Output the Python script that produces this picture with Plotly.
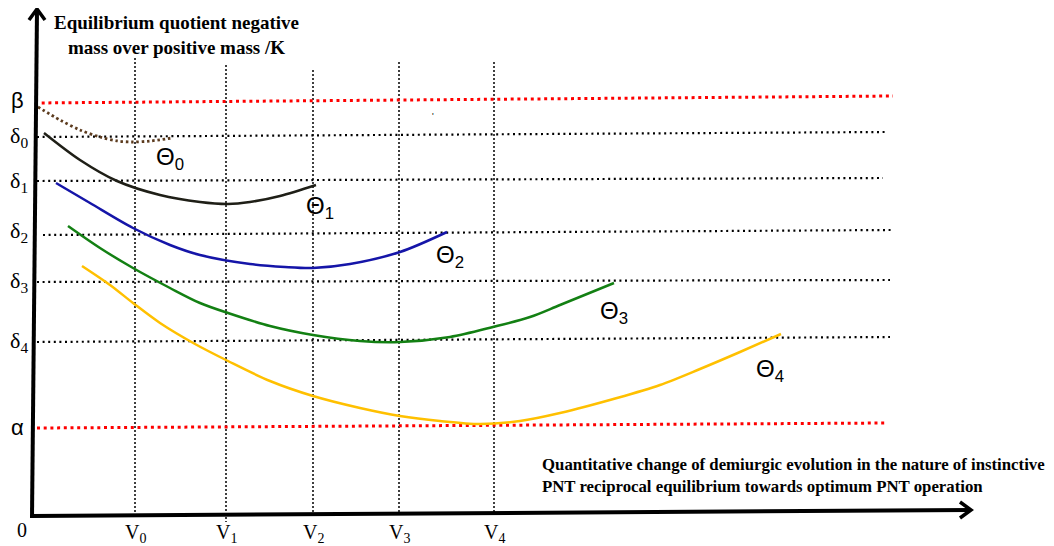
import plotly.graph_objects as go

# ---------------- data (diagram units: px-like, y grows downward) ----------------
curve_names = ["Θ0", "Θ1", "Θ2", "Θ3", "Θ4"]
theta0_x = [38, 60, 80, 100, 118, 133, 150, 172]
theta0_y = [107, 120, 130, 137, 141, 142, 141, 138]
theta1_x = [44, 80, 117, 160, 200, 228, 250, 280, 316]
theta1_y = [133, 160, 181, 195, 202, 204, 202, 196, 185]
theta2_x = [56, 90, 133, 170, 200, 250, 285, 313, 350, 400, 447]
theta2_y = [183, 203, 228, 245, 255, 264, 267, 268, 264, 252, 232]
theta3_x = [68, 100, 133, 170, 200, 228, 270, 313, 360, 400, 450, 493, 530, 560, 614]
theta3_y = [226, 248, 268, 288, 303, 313, 326, 335, 341, 342, 337, 327, 317, 305, 283]
theta4_x = [82, 110, 133, 160, 195, 228, 270, 313, 360, 400, 440, 480, 520, 560, 617, 660, 700, 740, 781]
theta4_y = [266, 285, 303, 323, 344, 361, 381, 396, 408, 416, 421, 424, 421, 413, 398, 385, 369, 352, 334]

# equilibrium levels (left / right ends of dotted reference lines)
level_labels = ["δ<sub>0</sub>", "δ<sub>1</sub>", "δ<sub>2</sub>", "δ<sub>3</sub>", "δ<sub>4</sub>"]
level_x0 = [37, 37, 43, 37, 37]
level_x1 = [886, 883, 892, 890, 890]
level_y0 = [137, 181, 235, 282, 342]
level_y1 = [132, 178, 230, 280, 337]
level_label_y = [137, 182, 232, 282, 342]

bound_labels = ["β", "α"]
bound_x0 = [35, 37]
bound_x1 = [893, 887]
bound_y0 = [103, 428]
bound_y1 = [96, 423]
bound_label_y = [100, 427]

v_labels = ["V<sub>0</sub>", "V<sub>1</sub>", "V<sub>2</sub>", "V<sub>3</sub>", "V<sub>4</sub>"]
v_x = [135, 226, 313, 399, 494]
v_top = [58, 65, 70, 62, 62]
v_bottom = [516, 522, 516, 515, 514]

theta_label_x = [170, 320, 450, 614, 770]
theta_label_y = [158, 207, 256, 312, 370]

y_title = "Equilibrium quotient negative<br>mass over positive mass /K"
x_title = ("Quantitative change of demiurgic evolution in the nature of instinctive<br>"
           "PNT reciprocal equilibrium towards optimum PNT operation")

# page body has an 8px margin: shift the visible window so that diagram units line up
OFF = 8

# ---------------- figure ----------------
fig = go.Figure()

# vertical dotted guides
for x, t, b in zip(v_x, v_top, v_bottom):
    fig.add_trace(go.Scatter(x=[x, x], y=[t, b], mode="lines",
                             line=dict(color="black", width=1.5, dash="2px,2px"),
                             hoverinfo="skip", showlegend=False))

# delta levels
for x0, x1, y0, y1 in zip(level_x0, level_x1, level_y0, level_y1):
    fig.add_trace(go.Scatter(x=[x0, x1], y=[y0, y1], mode="lines",
                             line=dict(color="black", width=2.2, dash="2px,3.6px"),
                             hoverinfo="skip", showlegend=False))

# alpha / beta bounds (red)
for x0, x1, y0, y1 in zip(bound_x0, bound_x1, bound_y0, bound_y1):
    fig.add_trace(go.Scatter(x=[x0, x1], y=[y0, y1], mode="lines",
                             line=dict(color="#ff0000", width=3, dash="3px,3.7px"),
                             hoverinfo="skip", showlegend=False))

# curves
curves = [
    (theta0_x, theta0_y, "#5c3b1e", "2.5px,2.8px", 2.8),
    (theta1_x, theta1_y, "#1f1f17", "solid", 2.5),
    (theta2_x, theta2_y, "#1515a8", "solid", 2.5),
    (theta3_x, theta3_y, "#138013", "solid", 2.5),
    (theta4_x, theta4_y, "#ffc000", "solid", 2.5),
]
for (cx, cy, col, dash, w), name in zip(curves, curve_names):
    fig.add_trace(go.Scatter(x=cx, y=cy, mode="lines", name=name,
                             line=dict(color=col, width=w, dash=dash, shape="spline", smoothing=0.9),
                             hoverinfo="skip", showlegend=False))

# axes (thick black lines with open arrowheads)
shapes = [
    dict(type="line", x0=32, y0=518, x1=37, y1=10, xref="x", yref="y",
         line=dict(color="black", width=4)),
    dict(type="line", x0=32, y0=516, x1=970, y1=510, xref="x", yref="y",
         line=dict(color="black", width=4)),
    dict(type="path", path="M 29,20 L 37,9 L 45,20", xref="x", yref="y",
         line=dict(color="black", width=3.5)),
    dict(type="path", path="M 960,502 L 971,510 L 960,518", xref="x", yref="y",
         line=dict(color="black", width=3.5)),
]

ann = []
serif = "Liberation Serif"
ann.append(dict(x=176, y=10, text="<b>" + y_title + "</b>", showarrow=False,
                xanchor="center", yanchor="top", align="center",
                font=dict(family=serif, size=19, color="black")))
ann.append(dict(x=540, y=453, text="<b>" + x_title + "</b>", showarrow=False,
                xanchor="left", yanchor="top", align="left",
                font=dict(family=serif, size=16.8, color="black")))
for lab, ly in zip(level_labels, level_label_y):
    ann.append(dict(x=19, y=ly, text=lab, showarrow=False, xanchor="center", yanchor="middle",
                    font=dict(family=serif, size=22, color="black")))
for lab, ly in zip(bound_labels, bound_label_y):
    ann.append(dict(x=17, y=ly, text=lab, showarrow=False, xanchor="center", yanchor="middle",
                    font=dict(family="Liberation Sans", size=22, color="black")))
for lab, vx in zip(v_labels, v_x):
    ann.append(dict(x=vx, y=533, text=lab, showarrow=False, xanchor="center", yanchor="middle",
                    font=dict(family=serif, size=20, color="black")))
ann.append(dict(x=22, y=530, text="0", showarrow=False, xanchor="center", yanchor="middle",
                font=dict(family=serif, size=20, color="black")))
for i, (tx, ty) in enumerate(zip(theta_label_x, theta_label_y)):
    ann.append(dict(x=tx, y=ty, text="Θ<sub>%d</sub>" % i, showarrow=False,
                    xanchor="center", yanchor="middle",
                    font=dict(family="Liberation Sans", size=24, color="black")))
ann.append(dict(x=433, y=116, text="'", showarrow=False, xanchor="center", yanchor="middle",
                font=dict(family="Liberation Sans", size=9, color="black")))

fig.update_layout(
    width=1054, height=546,
    margin=dict(l=0, r=0, t=0, b=0),
    paper_bgcolor="white", plot_bgcolor="white",
    xaxis=dict(range=[OFF, 1054 + OFF], visible=False, fixedrange=True),
    yaxis=dict(range=[546 + OFF, OFF], visible=False, fixedrange=True),
    shapes=shapes, annotations=ann, showlegend=False,
)

fig.write_html("out.html")
